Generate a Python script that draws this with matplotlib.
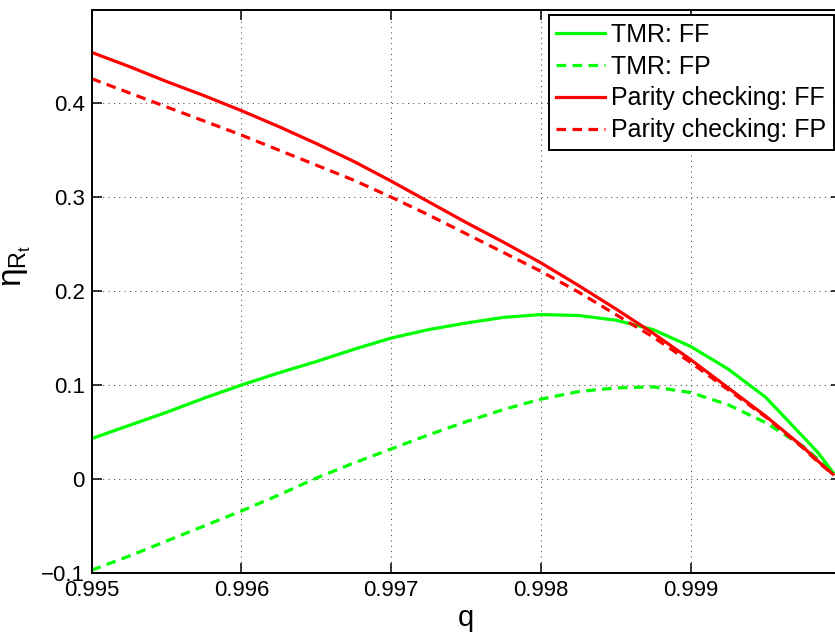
import matplotlib
matplotlib.use("Agg")
import matplotlib.pyplot as plt

plt.rcParams['font.family'] = ['Liberation Sans', 'DejaVu Sans']
plt.rcParams['mathtext.fontset'] = 'custom'
plt.rcParams['mathtext.rm'] = 'Liberation Sans'
plt.rcParams['mathtext.it'] = 'Liberation Sans'
plt.rcParams['mathtext.bf'] = 'Liberation Sans:bold'

# values
q = [0.995, 0.99525, 0.9955, 0.99575, 0.996, 0.99625, 0.9965, 0.99675,
     0.997, 0.99725, 0.9975, 0.99775, 0.998, 0.99825, 0.9985, 0.99875,
     0.999, 0.99925, 0.9995, 0.99975, 0.99985, 0.99995]

tmr_ff = [0.043, 0.057, 0.071, 0.086, 0.100, 0.113, 0.125, 0.138,
          0.150, 0.159, 0.166, 0.172, 0.175, 0.174, 0.169, 0.159,
          0.141, 0.117, 0.087, 0.045, 0.028, 0.007]
tmr_fp = [-0.097, -0.082, -0.066, -0.050, -0.034, -0.017, 0.001, 0.017,
          0.032, 0.047, 0.061, 0.074, 0.085, 0.093, 0.097, 0.098,
          0.092, 0.079, 0.060, 0.035, 0.021, 0.005]
par_ff = [0.454, 0.439, 0.423, 0.408, 0.392, 0.375, 0.357, 0.338,
          0.317, 0.295, 0.273, 0.252, 0.230, 0.206, 0.181, 0.155,
          0.127, 0.097, 0.067, 0.034, 0.019, 0.005]
par_fp = [0.426, 0.411, 0.396, 0.381, 0.366, 0.350, 0.334, 0.318,
          0.300, 0.281, 0.261, 0.241, 0.221, 0.199, 0.175, 0.151,
          0.124, 0.095, 0.066, 0.033, 0.018, 0.005]

labels = ['TMR: FF', 'TMR: FP', 'Parity checking: FF', 'Parity checking: FP']
xticks = [0.995, 0.996, 0.997, 0.998, 0.999]
yticks = [-0.1, 0, 0.1, 0.2, 0.3, 0.4]

fig = plt.figure(figsize=(8.35, 6.32), dpi=100)
# axes run slightly past the right edge, like the cropped original
ax = fig.add_axes([0.1098, 0.0934, 0.8968, 0.8906])

lw = 2.3
dash = (0, (3, 2))
ax.plot(q, tmr_ff, color=(0, 1, 0), lw=lw, label=labels[0])
ax.plot(q, tmr_fp, color=(0, 1, 0), lw=lw, ls=dash, label=labels[1])
ax.plot(q, par_ff, color=(1, 0, 0), lw=lw, label=labels[2])
ax.plot(q, par_fp, color=(1, 0, 0), lw=lw, ls=dash, label=labels[3])

ax.set_xlim(0.995, 1.0)
ax.set_ylim(-0.1, 0.499)
ax.set_xticks(xticks)
ax.set_xticklabels(['0.995', '0.996', '0.997', '0.998', '0.999'])
ax.set_yticks(yticks)
ax.set_yticklabels(['\u22120.1', '0', '0.1', '0.2', '0.3', '0.4'])

ax.grid(True, color='#333333', linestyle=(0, (1, 4.5)), linewidth=0.7)
ax.tick_params(direction='in', length=7, width=1.1, labelsize=16,
               top=True, right=True, pad=5)
for s in ax.spines.values():
    s.set_linewidth(1.4)

ax.set_xlabel('q', fontsize=21, labelpad=2)
ax.set_ylabel(r'$\eta_{R_t}$', fontsize=24, rotation=90)
ax.yaxis.set_label_coords(-0.078, 0.545)

leg = ax.legend(loc='upper right', bbox_to_anchor=(834 / 835, 1 - 15 / 632),
                bbox_transform=fig.transFigure, borderaxespad=0,
                fontsize=18, frameon=True, fancybox=False, framealpha=1,
                edgecolor='black', handlelength=1.95, handletextpad=0.25,
                labelspacing=0.32, borderpad=0.3)
leg.get_frame().set_linewidth(1.4)

fig.savefig('out.png', dpi=100)
